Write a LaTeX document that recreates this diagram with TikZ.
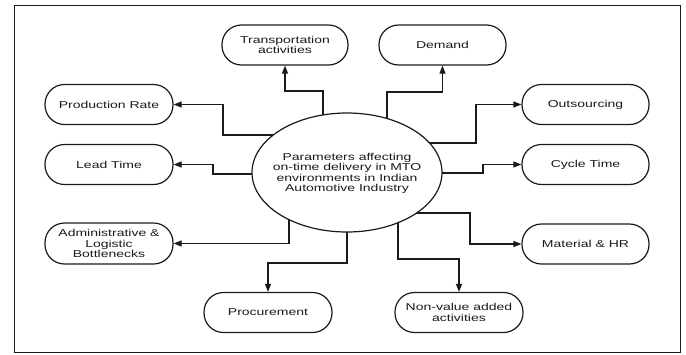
\documentclass[tikz,border=0pt]{standalone}
\usepackage{fontspec}
\setmainfont{Liberation Sans}[FakeStretch=1.4]
\usetikzlibrary{arrows.meta,shapes.geometric,calc}
\definecolor{ink}{HTML}{1A1A1A}
\tikzset{
  pill/.style={draw=ink, line width=1.2pt, rectangle, rounded corners=19.5pt,
    minimum width=128pt, minimum height=40pt, inner sep=0pt, align=center,
    text=ink, font=\fontsize{10}{10.6}\selectfont},
  conn/.style={draw=ink, line width=1.2pt, -{Triangle[length=8pt,width=6pt]}},
  hub/.style={draw=ink, line width=1.2pt, ellipse, fill=white,
    minimum width=190pt, minimum height=119pt, inner sep=0pt},
  hubtext/.style={align=center, text=ink, inner sep=0pt,
    font=\fontsize{10}{10.5}\selectfont}
}
\begin{document}
\begin{tikzpicture}[x=1pt,y=-1pt]
\useasboundingbox (0,0) rectangle (686,354);
\draw[line width=1.8pt, ink] (14.5,5.5) rectangle (680.5,352.5);

\node[pill, minimum width=126pt] (tr) at (285,45) {Transportation\\activities};
\node[pill, minimum width=127pt] (dm) at (442.5,45) {Demand};
\node[pill] (pr) at (109,104.5) {Production Rate};
\node[pill] (lt) at (109,164.5) {Lead Time};
\node[pill, minimum height=41pt] (ad) at (109,243.5) {Administrative \&\\Logistic\\Bottlenecks};
\node[pill, minimum width=127pt] (ou) at (585.5,104.5) {Outsourcing};
\node[pill, minimum width=127pt] (ct) at (585.5,164.5) {Cycle Time};
\node[pill, minimum width=127pt] (mh) at (585.5,244) {Material \& HR};
\node[pill] (pc) at (268,312.5) {Procurement};
\node[pill] (nv) at (459,312.5) {Non-value added\\activities};

\coordinate (c0) at (347,172.5);
\draw[conn] ($(c0)+(-24,0)$) -- ++(0,-81.5) -| (tr.south);
\draw[conn] ($(c0)+(40,0)$) -- ++(0,-80.5) -| (dm.south);
\draw[conn] ($(c0)+(0,-37.5)$) -- ++(-124,0) |- (pr.east);
\draw[conn] ($(c0)+(0,1.5)$) -- ++(-134,0) |- (lt.east);
\draw[conn] ($(c0)+(0,-29.5)$) -- ++(129,0) |- (ou.west);
\draw[conn] ($(c0)+(0,0.5)$) -- ++(136,0) |- (ct.west);
\draw[conn] ($(c0)+(-58,0)$) |- (ad.east);
\draw[conn] (c0) -- ++(0,90.5) -| (pc.north);
\draw[conn] ($(c0)+(51,0)$) -- ++(0,86.5) -| (nv.north);
\draw[conn] ($(c0)+(0,40.5)$) -- ++(123,0) |- (mh.west);

\node[hub] (c) at (c0) {};
\node[hubtext] (ctext) at ($(c)+(0,1)$) {Parameters affecting\\on-time delivery in MTO\\environments in Indian\\Automotive Industry};
\end{tikzpicture}
\end{document}
